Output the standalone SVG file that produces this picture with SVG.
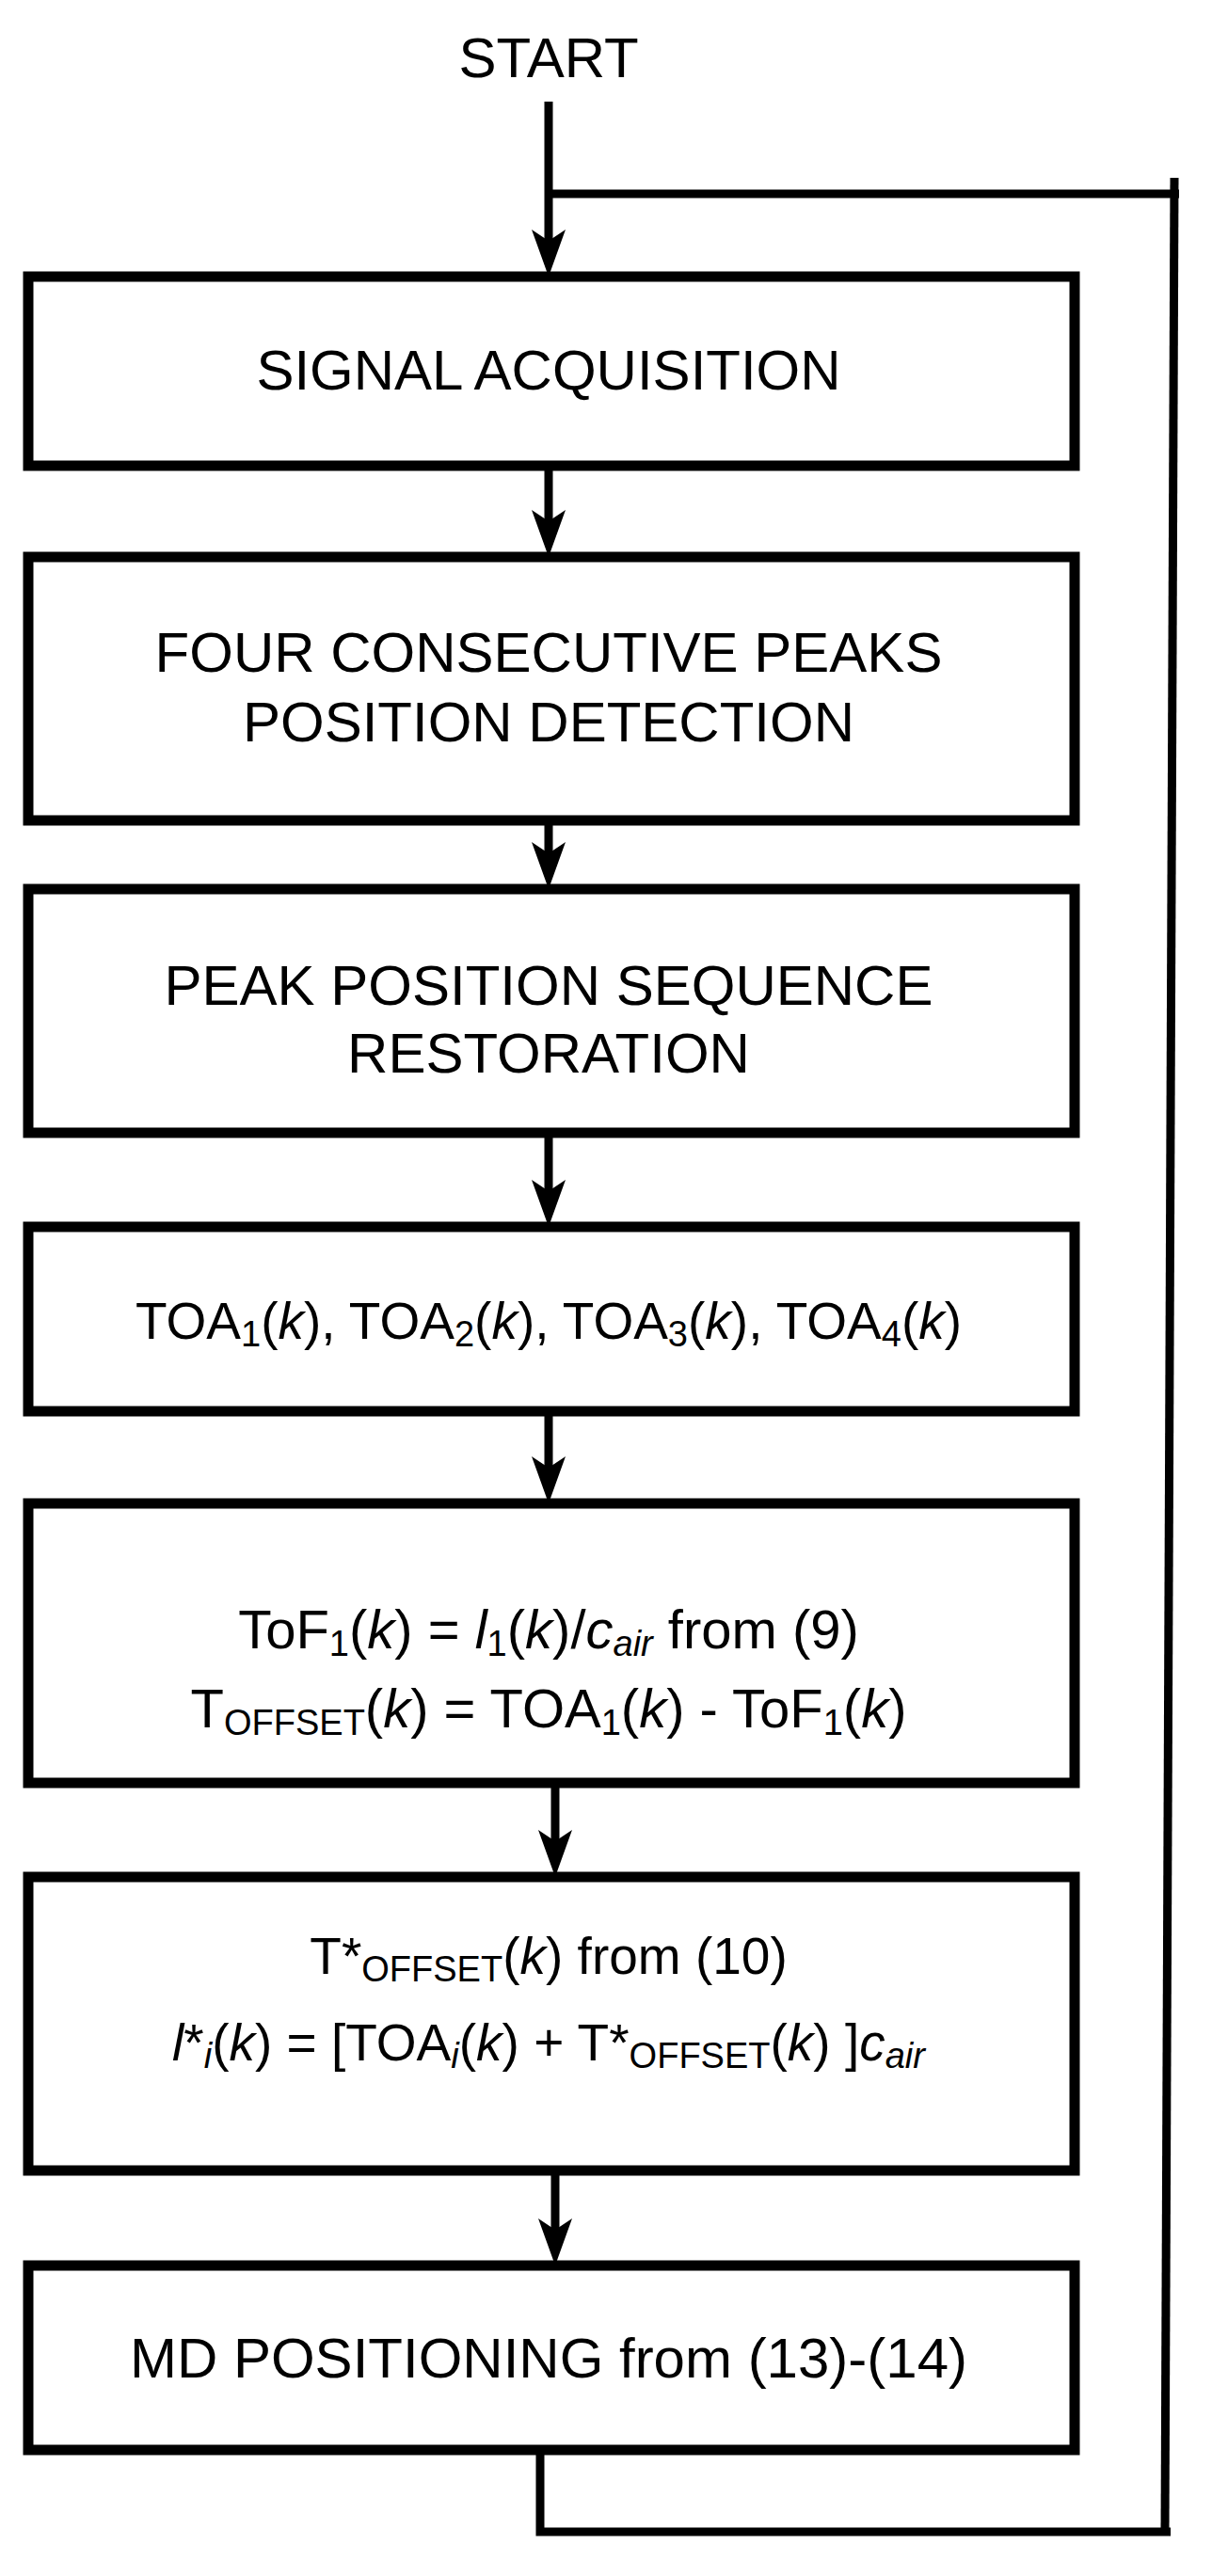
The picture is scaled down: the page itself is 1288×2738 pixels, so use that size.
<svg xmlns="http://www.w3.org/2000/svg" width="1288" height="2738" viewBox="0 0 1288 2738">
<style>
.box{fill:#fff;stroke:#000;stroke-width:11}
.ln{fill:none;stroke:#000;stroke-width:9}
.ah{fill:#000}
text{font-family:"Liberation Sans",Arial,sans-serif;font-size:60px;fill:#000;text-anchor:middle}
.f{font-size:55px}
.g{font-size:58px}
.s{font-size:38px}
.i{font-style:italic}
</style>
<rect width="1288" height="2738" fill="#fff"/>
<text x="583" y="82" font-size="61">START</text>
<g id="connectors">
<path class="ln" d="M583,108 V260"/>
<path class="ah" d="M565,244 L583,256 L601,244 L583,294 Z"/>
<path class="ln" d="M583,206 H1253"/>
<path class="ln" d="M1248,189 L1238,2691"/>
<path class="ln" d="M583,495 V560"/>
<path class="ah" d="M565,542 L583,554 L601,542 L583,592 Z"/>
<path class="ln" d="M583,872 V912"/>
<path class="ah" d="M565,895 L583,907 L601,895 L583,945 Z"/>
<path class="ln" d="M583,1204 V1270"/>
<path class="ah" d="M565,1254 L583,1266 L601,1254 L583,1304 Z"/>
<path class="ln" d="M583,1500 V1565"/>
<path class="ah" d="M565,1548 L583,1560 L601,1548 L583,1598 Z"/>
<path class="ln" d="M590,1895 V1962"/>
<path class="ah" d="M572,1945 L590,1957 L608,1945 L590,1995 Z"/>
<path class="ln" d="M590,2307 V2375"/>
<path class="ah" d="M572,2358 L590,2370 L608,2358 L590,2408 Z"/>
<path class="ln" d="M574,2604 V2691 H1244"/>
</g>
<g id="n1"><rect class="box" x="30" y="294" width="1112" height="201"/><text x="583" y="414">SIGNAL ACQUISITION</text></g>
<g id="n2"><rect class="box" x="30" y="592" width="1112" height="280"/><text x="583" y="714">FOUR CONSECUTIVE PEAKS</text><text x="583" y="788">POSITION DETECTION</text></g>
<g id="n3"><rect class="box" x="30" y="945" width="1112" height="259"/><text x="583" y="1068">PEAK POSITION SEQUENCE</text><text x="583" y="1140">RESTORATION</text></g>
<g id="n4"><rect class="box" x="30" y="1304" width="1112" height="196"/><text class="f" x="583" y="1423">TOA<tspan class="s" dy="8">1</tspan><tspan dy="-8">(</tspan><tspan class="i">k</tspan>), TOA<tspan class="s" dy="8">2</tspan><tspan dy="-8">(</tspan><tspan class="i">k</tspan>), TOA<tspan class="s" dy="8">3</tspan><tspan dy="-8">(</tspan><tspan class="i">k</tspan>), TOA<tspan class="s" dy="8">4</tspan><tspan dy="-8">(</tspan><tspan class="i">k</tspan>)</text></g>
<g id="n5"><rect class="box" x="30" y="1598" width="1112" height="297"/>
<text class="g" x="583" y="1752">ToF<tspan class="s" dy="8">1</tspan><tspan dy="-8">(</tspan><tspan class="i">k</tspan>) = <tspan class="i">l</tspan><tspan class="s" dy="8">1</tspan><tspan dy="-8">(</tspan><tspan class="i">k</tspan>)/<tspan class="i">c</tspan><tspan class="s i" dy="8">air</tspan><tspan dy="-8"> from (9)</tspan></text>
<text class="g" x="583" y="1836">T<tspan class="s" dy="8">OFFSET</tspan><tspan dy="-8">(</tspan><tspan class="i">k</tspan>) = TOA<tspan class="s" dy="8">1</tspan><tspan dy="-8">(</tspan><tspan class="i">k</tspan>) - ToF<tspan class="s" dy="8">1</tspan><tspan dy="-8">(</tspan><tspan class="i">k</tspan>)</text></g>
<g id="n6"><rect class="box" x="30" y="1995" width="1112" height="312"/>
<text class="f" x="583" y="2098">T*<tspan class="s" dy="8">OFFSET</tspan><tspan dy="-8">(</tspan><tspan class="i">k</tspan>) from (10)</text>
<text class="f" x="583" y="2190"><tspan class="i">l</tspan>*<tspan class="s i" dy="8">i</tspan><tspan dy="-8">(</tspan><tspan class="i">k</tspan>) = [TOA<tspan class="s i" dy="8">i</tspan><tspan dy="-8">(</tspan><tspan class="i">k</tspan>) + T*<tspan class="s" dy="8">OFFSET</tspan><tspan dy="-8">(</tspan><tspan class="i">k</tspan>) ]<tspan class="i">c</tspan><tspan class="s i" dy="8">air</tspan></text></g>
<g id="n7"><rect class="box" x="30" y="2408" width="1112" height="196"/><text x="583" y="2527">MD POSITIONING from (13)-(14)</text></g>
</svg>
